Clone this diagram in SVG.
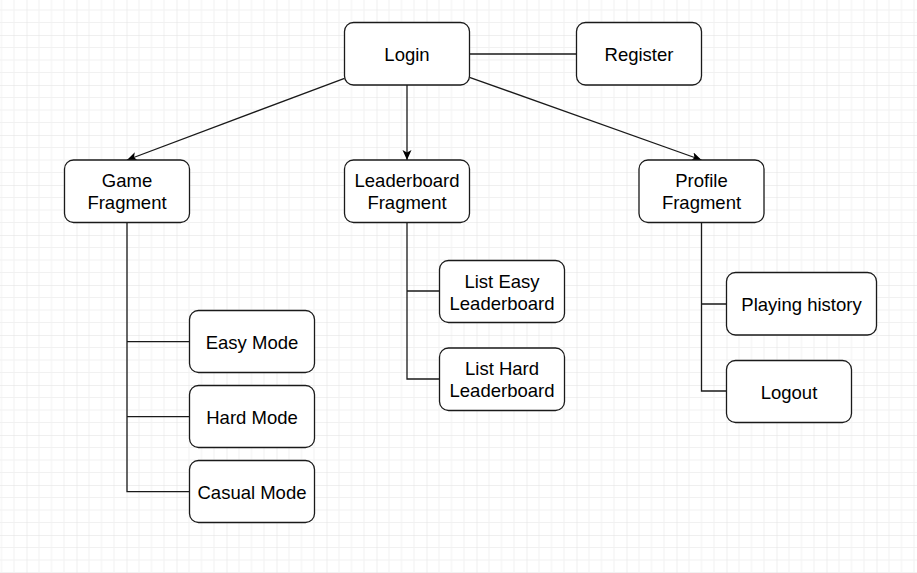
<svg xmlns="http://www.w3.org/2000/svg" width="917" height="573" viewBox="0 0 917 573">
<defs>
<pattern id="grid" patternUnits="userSpaceOnUse" x="26.5" y="35" width="50" height="50">
<path d="M12.5 0V50M25 0V50M37.5 0V50M0 12.5H50M0 25H50M0 37.5H50" stroke="#f1f1f1" stroke-width="1" fill="none"/>
<path d="M0 0V50M0 0H50" stroke="#e0e0e0" stroke-width="1" fill="none"/>
</pattern>
<marker id="arr" markerUnits="userSpaceOnUse" markerWidth="12" markerHeight="10" refX="10" refY="4.5" orient="auto" viewBox="0 0 12 10">
<path d="M0 0L10 4.5L0 9L2.5 4.5Z" fill="#000"/>
</marker>
<style>
.n rect{fill:#fff;stroke:#1a1a1a;stroke-width:1.3}
.n text{font-family:"Liberation Sans",Arial,sans-serif;font-size:18.5px;fill:#000;text-anchor:middle}
#connectors path{fill:none;stroke:#1a1a1a;stroke-width:1.3}
</style>
</defs>
<rect width="917" height="573" fill="#fff"/>
<rect width="917" height="573" fill="url(#grid)"/>
<g id="connectors">
<path d="M469.5 54H576.5"/>
<path d="M407 85V160" marker-end="url(#arr)"/>
<path d="M344.5 78.3L127 160" marker-end="url(#arr)"/>
<path d="M469.5 77.3L701.5 160" marker-end="url(#arr)"/>
<path d="M127 222.5V491.7H189.5M127 341.7H189.5M127 416.7H189.5"/>
<path d="M407 222.5V379H439.5M407 291H439.5"/>
<path d="M701.5 222.5V391H726.5M701.5 304H726.5"/>
</g>
<g id="login" class="n"><rect x="344.5" y="22.5" width="125" height="62.5" rx="9"/><text x="407" y="61">Login</text></g>
<g id="register" class="n"><rect x="576.5" y="22.5" width="125" height="62.5" rx="9"/><text x="639" y="61">Register</text></g>
<g id="game" class="n"><rect x="64.5" y="160" width="125" height="62.5" rx="9"/><text x="127" y="187.3">Game</text><text x="127" y="209.3">Fragment</text></g>
<g id="leaderboard" class="n"><rect x="344.5" y="160" width="125" height="62.5" rx="9"/><text x="407" y="187.3">Leaderboard</text><text x="407" y="209.3">Fragment</text></g>
<g id="profile" class="n"><rect x="639" y="160" width="125" height="62.5" rx="9"/><text x="701.5" y="187.3">Profile</text><text x="701.5" y="209.3">Fragment</text></g>
<g id="easy" class="n"><rect x="189.5" y="310.5" width="125" height="62" rx="9"/><text x="252" y="348.5">Easy Mode</text></g>
<g id="hard" class="n"><rect x="189.5" y="385.5" width="125" height="62" rx="9"/><text x="252" y="423.5">Hard Mode</text></g>
<g id="casual" class="n"><rect x="189.5" y="460.5" width="125" height="62" rx="9"/><text x="252" y="498.5">Casual Mode</text></g>
<g id="listeasy" class="n"><rect x="439.5" y="260.5" width="125" height="62" rx="9"/><text x="502" y="287.5">List Easy</text><text x="502" y="309.5">Leaderboard</text></g>
<g id="listhard" class="n"><rect x="439.5" y="348" width="125" height="62.5" rx="9"/><text x="502" y="375.3">List Hard</text><text x="502" y="397.3">Leaderboard</text></g>
<g id="playing" class="n"><rect x="726.5" y="272.5" width="150" height="62.5" rx="9"/><text x="801.5" y="310.5">Playing history</text></g>
<g id="logout" class="n"><rect x="726.5" y="360.5" width="125" height="62" rx="9"/><text x="789" y="398.5">Logout</text></g>
</svg>
